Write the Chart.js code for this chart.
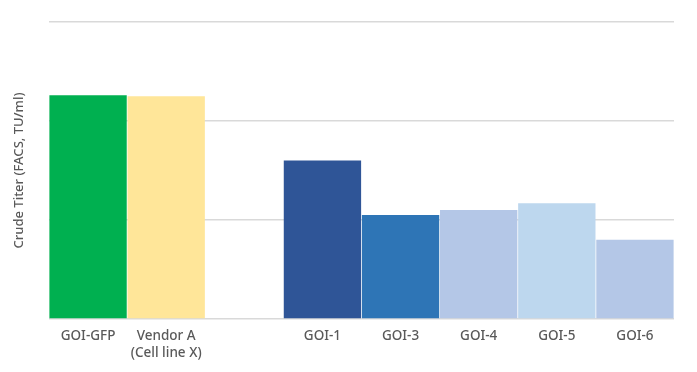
<!DOCTYPE html>
<html>
<head>
<meta charset="utf-8">
<script src="https://cdn.jsdelivr.net/npm/chart.js@4.4.0/dist/chart.umd.min.js"></script>
<style>
  html, body { margin: 0; padding: 0; background: #fff; }
  #wrap { width: 697px; height: 372px; }
</style>
</head>
<body>
<div id="wrap"><canvas id="c" width="697" height="372"></canvas></div>
<script>
// categories (empty slot between vendor and GOI bars)
const labels = ['GOI-GFP', ['Vendor A', '(Cell line X)'], '', 'GOI-1', 'GOI-3', 'GOI-4', 'GOI-5', 'GOI-6'];
const titers = [2.26, 2.25, null, 1.60, 1.05, 1.10, 1.17, 0.80];
const barColors = ['#00B050', '#FFE699', '#ffffff', '#2F5597', '#2E75B6', '#B4C7E7', '#BDD7EE', '#B4C7E7'];
const yTicks = [0, 1, 2, 3];

const ctx = document.getElementById('c').getContext('2d');
new Chart(ctx, {
    type: 'bar',
    data: {
        labels: labels,
        datasets: [{
            data: titers,
            backgroundColor: barColors,
            barPercentage: 0.99,
            categoryPercentage: 1
        }]
    },
    options: {
        responsive: false,
        animation: false,
        layout: { padding: { top: 22, right: 23, left: 0, bottom: 0 } },
        plugins: { legend: { display: false }, tooltip: { enabled: false } },
        scales: {
            x: {
                grid: { display: false, drawTicks: false },
                border: { display: false },
                ticks: {
                    color: '#595959',
                    padding: 9,
                    maxRotation: 0,
                    autoSkip: false,
                    font: { family: 'Noto Sans', size: 13.5, weight: '500', lineHeight: 1.25 }
                },
                afterFit: s => { s.height = 53; }
            },
            y: {
                min: 0,
                max: 3,
                afterBuildTicks: s => { s.ticks = yTicks.map(v => ({ value: v })); },
                grid: { color: '#D9D9D9', lineWidth: 1.6, drawTicks: false },
                border: { display: false },
                ticks: { display: false },
                title: {
                    display: true,
                    text: 'Crude Titer (FACS, TU/ml)',
                    color: '#595959',
                    padding: { top: 11, bottom: 0 },
                    font: { family: 'Noto Sans', size: 13, weight: '500' }
                },
                afterFit: s => { s.width = 49; }
            }
        }
    }
});
</script>
</body>
</html>
